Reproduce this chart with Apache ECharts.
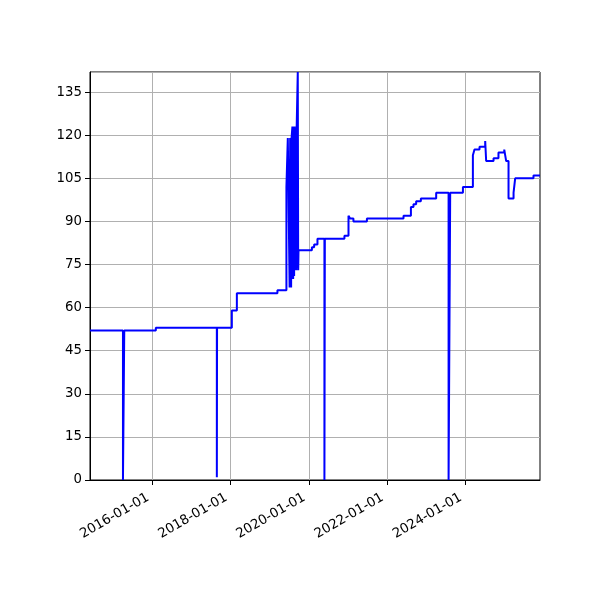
<!DOCTYPE html>
<html>
<head>
<meta charset="utf-8">
<script src="https://cdn.jsdelivr.net/npm/echarts@6/dist/echarts.min.js"></script>
<style>
html,body{margin:0;padding:0;background:#fff;}
#chart{width:600px;height:600px;}
</style>
</head>
<body>
<div id="chart"></div>
<script>
// change points (value holds until next date)
const dates = [
  '2014-05-28','2015-04-01','2015-04-13','2016-02-02','2017-08-25','2017-08-27',
  '2018-01-12','2018-02-28','2019-03-14','2019-06-06','2019-06-19',
  '2019-07-06','2019-07-11','2019-07-20','2019-07-24','2019-08-01',
  '2019-08-08','2019-08-13','2019-08-17','2019-08-22','2019-09-05','2019-09-10',
  '2019-09-20','2019-09-24','2019-09-27',
  '2020-01-30','2020-02-20','2020-03-22','2020-05-26','2020-05-30',
  '2020-11-29','2021-01-06','2021-01-21','2021-02-21','2021-06-27',
  '2022-06-04','2022-08-12','2022-09-05','2022-09-30','2022-11-13',
  '2023-04-05','2023-07-30','2023-08-14','2023-12-11',
  '2024-03-13','2024-03-28','2024-05-14','2024-07-06','2024-07-15',
  '2024-09-22','2024-11-07','2024-12-31','2025-01-18','2025-02-09',
  '2025-03-28','2025-04-12','2025-09-30','2025-11-30'
];
const values = [
  52,0,52,53,1,53,
  59,65,66,102,119,
  67,119,67,119,123,
  70,123,71,123,73,123,
  142,73,80,
  81,82,84,0,84,
  85,92,91,90,91,
  92,95,96,97,98,
  100,0,100,102,
  113,115,116,118,111,
  112,114,115,111,98,
  100,105,106,106
];
const xTickLabels = ['2016-01-01','2018-01-01','2020-01-01','2022-01-01','2024-01-01'];
const yTicks = [0,15,30,45,60,75,90,105,120,135];

function toTime(s){ const p = s.split('-').map(Number); return new Date(p[0], p[1]-1, p[2]).getTime(); }
function pad(n){ return (n<10?'0':'')+n; }
function fmt(t){ const d = new Date(t); return d.getFullYear()+'-'+pad(d.getMonth()+1)+'-'+pad(d.getDate()); }

const seriesData = dates.map((d,i)=>[toTime(d), values[i]]);
const xTickVals = xTickLabels.map(toTime);

const chart = echarts.init(document.getElementById('chart'), null, {renderer:'canvas'});
const font = {fontFamily:'DejaVu Sans', fontSize:13.3, color:'#000'};
chart.setOption({
  animation:false,
  backgroundColor:'#fff',
  grid:{left:90,right:60,top:72,bottom:120,show:true,borderColor:'#000',borderWidth:1,backgroundColor:'transparent'},
  xAxis:{
    type:'value',
    min:toTime(dates[0]), max:toTime(dates[dates.length-1]),
    axisLine:{show:true,lineStyle:{color:'#000',width:1}},
    axisTick:{show:true,customValues:xTickVals,length:5,lineStyle:{color:'#000',width:1}},
    axisLabel:Object.assign({customValues:xTickVals,rotate:30,margin:14,padding:[0,5,0,0],formatter:(v)=>fmt(v),hideOverlap:false},font),
    splitLine:{show:true,lineStyle:{color:'#b0b0b0',width:1}}
  },
  yAxis:{
    type:'value', min:0, max:142, interval:15,
    axisLine:{show:true,lineStyle:{color:'#000',width:1}},
    axisTick:{show:true,length:5,lineStyle:{color:'#000',width:1}},
    axisLabel:Object.assign({margin:8,showMaxLabel:false},font),
    splitLine:{show:true,lineStyle:{color:'#b0b0b0',width:1}}
  },
  series:[{
    type:'line', step:'end', data:seriesData, showSymbol:false, symbol:'none',
    lineStyle:{color:'#0000ff',width:2}, itemStyle:{color:'#0000ff'}
  }]
});
</script>
</body>
</html>
